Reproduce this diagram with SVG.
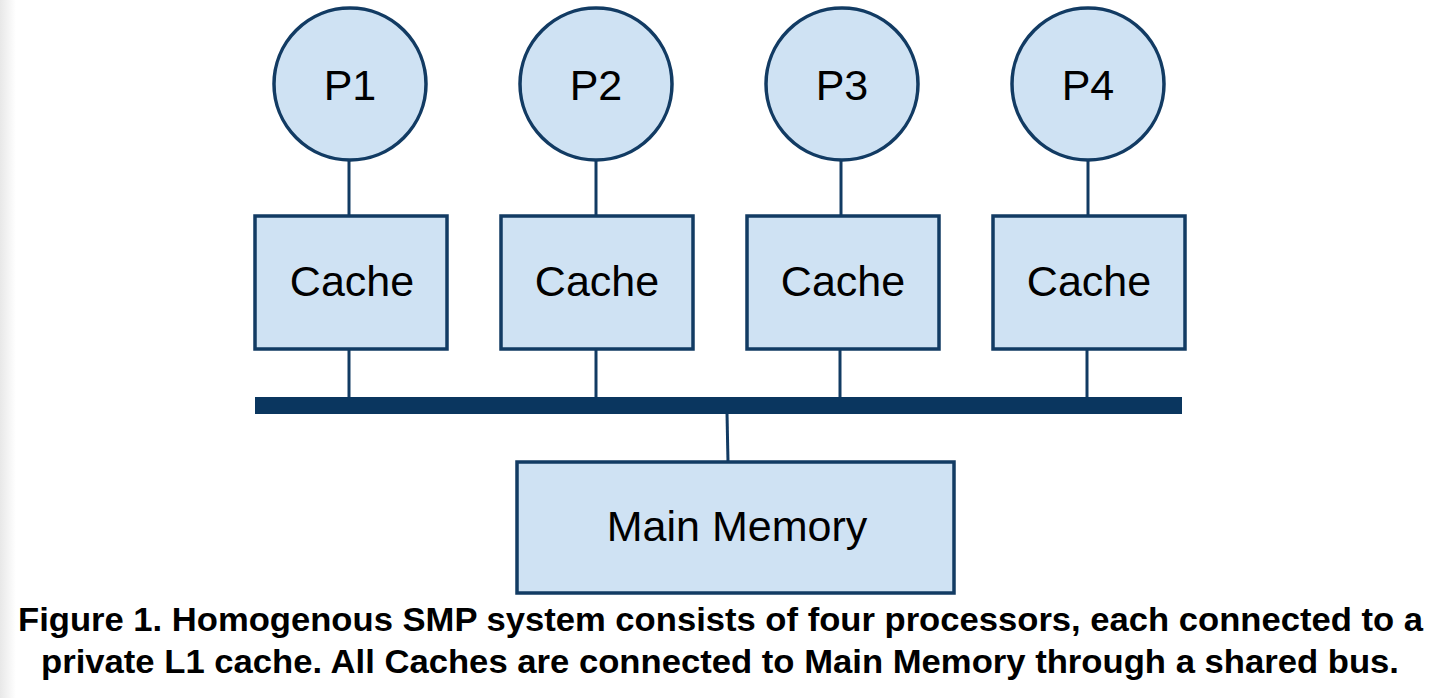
<svg xmlns="http://www.w3.org/2000/svg" width="1446" height="698" viewBox="0 0 1446 698">
<defs>
<linearGradient id="edge" x1="0" y1="0" x2="1" y2="0">
<stop offset="0" stop-color="#e8e8e8"/>
<stop offset="1" stop-color="#ffffff"/>
</linearGradient>
<style>
.n{fill:#cfe2f3;stroke:#123b63;stroke-width:3.5}
.t{font-family:"Liberation Sans",Arial,sans-serif;font-size:43px;fill:#000;text-anchor:middle}
.c{stroke:#123b63;stroke-width:3;fill:none}
.cap{font-family:"Liberation Sans",Arial,sans-serif;font-size:34px;font-weight:bold;fill:#000}
</style>
</defs>
<rect x="0" y="0" width="1446" height="698" fill="#fff"/>
<rect x="0" y="0" width="16" height="698" fill="url(#edge)"/>
<g id="connectors">
<line class="c" x1="349" y1="160" x2="349" y2="216"/>
<line class="c" x1="596" y1="160" x2="596" y2="216"/>
<line class="c" x1="841" y1="160" x2="841" y2="216"/>
<line class="c" x1="1088" y1="160" x2="1088" y2="216"/>
<line class="c" x1="349" y1="349" x2="349" y2="398"/>
<line class="c" x1="596" y1="349" x2="596" y2="398"/>
<line class="c" x1="840" y1="349" x2="840" y2="398"/>
<line class="c" x1="1087" y1="349" x2="1087" y2="398"/>
<line class="c" x1="727" y1="413" x2="728" y2="462"/>
</g>
<g id="bus"><rect x="255" y="397" width="927" height="17" fill="#0a365f"/></g>
<g id="p1"><circle class="n" cx="350" cy="84" r="76"/><text class="t" x="350" y="100">P1</text></g>
<g id="p2"><circle class="n" cx="596" cy="84" r="76"/><text class="t" x="596" y="100">P2</text></g>
<g id="p3"><circle class="n" cx="842" cy="84" r="76"/><text class="t" x="842" y="100">P3</text></g>
<g id="p4"><circle class="n" cx="1088" cy="84" r="76"/><text class="t" x="1088" y="100">P4</text></g>
<g id="cache1"><rect class="n" x="255" y="216" width="192" height="133"/><text class="t" x="352" y="296">Cache</text></g>
<g id="cache2"><rect class="n" x="501" y="216" width="192" height="133"/><text class="t" x="597" y="296">Cache</text></g>
<g id="cache3"><rect class="n" x="747" y="216" width="192" height="133"/><text class="t" x="843" y="296">Cache</text></g>
<g id="cache4"><rect class="n" x="993" y="216" width="192" height="133"/><text class="t" x="1089" y="296">Cache</text></g>
<g id="memory"><rect class="n" x="517" y="462" width="437" height="131"/><text class="t" x="737" y="541">Main Memory</text></g>
<g id="caption">
<text class="cap" x="18" y="631" textLength="1405" lengthAdjust="spacingAndGlyphs">Figure 1. Homogenous SMP system consists of four processors, each connected to a</text>
<text class="cap" x="41" y="673" textLength="1358" lengthAdjust="spacingAndGlyphs">private L1 cache. All Caches are connected to Main Memory through a shared bus.</text>
</g>
</svg>
